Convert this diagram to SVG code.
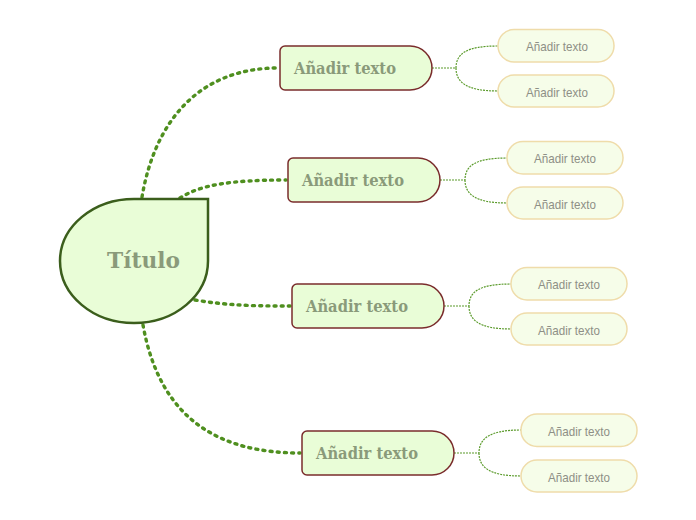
<svg xmlns="http://www.w3.org/2000/svg" width="696" height="520" viewBox="0 0 696 520">
<style>
.main{stroke:#4f8f1f;stroke-width:3.4;fill:none;stroke-linecap:round;stroke-dasharray:2 5.2}
.sub{stroke:#5a9a2a;stroke-width:1.2;fill:none;stroke-dasharray:2 1}
.mn{fill:#e9fdd7;stroke:#7a2c2c;stroke-width:1.5}
.mt{font-family:"DejaVu Serif","Liberation Serif",serif;font-weight:bold;font-size:16.5px;fill:#8a9a7a}
.sn{fill:#f6fde9;stroke:#efdcaa;stroke-width:1.5}
.st{font-family:"Liberation Sans",Arial,sans-serif;font-size:13.5px;fill:#8e8f86;text-anchor:middle}
</style>
<rect width="696" height="520" fill="#ffffff"/>
<g id="connectors">
<path class="main" d="M142,197 C155,120 200,68 278,68"/>
<path class="main" d="M180,198 C200,185 230,180 286,180"/>
<path class="main" d="M195,300 C230,306 260,306 290,306"/>
<path class="main" d="M143,325 C160,420 220,453 300,453"/>
<path class="sub" d="M432,68 H456 C456,54 466,46 498,46 M456,68 C456,82 466,91 498,91"/>
<path class="sub" d="M440,180 H465 C465,166 475,158 507,158 M465,180 C465,194 475,203 507,203"/>
<path class="sub" d="M444,306 H469 C469,292 479,284 511,284 M469,306 C469,320 479,329 511,329"/>
<path class="sub" d="M454,453 H479 C479,439 489,430 521,430 M479,453 C479,467 489,476 521,476"/>
</g>
<g id="central">
<path d="M134,199 H208 V261 A74,62 0 1 1 134,199 Z" fill="#e9fdd7" stroke="#3b5e1c" stroke-width="2.5"/>
<text x="143.5" y="268" font-family="DejaVu Serif,Liberation Serif,serif" font-weight="bold" font-size="22" fill="#8a9a7a" text-anchor="middle" textLength="73" lengthAdjust="spacingAndGlyphs">Título</text>
</g>
<g id="main1">
<path class="mn" d="M285,46 H410 A22,22 0 0 1 410,90 H285 A5,5 0 0 1 280,85 V51 A5,5 0 0 1 285,46 Z"/>
<text class="mt" x="294" y="74" textLength="102" lengthAdjust="spacingAndGlyphs">Añadir texto</text>
</g>
<g id="main2">
<path class="mn" d="M293,158 H418 A22,22 0 0 1 418,202 H293 A5,5 0 0 1 288,197 V163 A5,5 0 0 1 293,158 Z"/>
<text class="mt" x="302" y="186" textLength="102" lengthAdjust="spacingAndGlyphs">Añadir texto</text>
</g>
<g id="main3">
<path class="mn" d="M297,284 H422 A22,22 0 0 1 422,328 H297 A5,5 0 0 1 292,323 V289 A5,5 0 0 1 297,284 Z"/>
<text class="mt" x="306" y="312" textLength="102" lengthAdjust="spacingAndGlyphs">Añadir texto</text>
</g>
<g id="main4">
<path class="mn" d="M307,431 H432 A22,22 0 0 1 432,475 H307 A5,5 0 0 1 302,470 V436 A5,5 0 0 1 307,431 Z"/>
<text class="mt" x="316" y="459" textLength="102" lengthAdjust="spacingAndGlyphs">Añadir texto</text>
</g>
<g id="sub1a"><rect class="sn" x="498" y="29.5" width="116" height="32.5" rx="16"/><text class="st" x="557" y="51" textLength="62" lengthAdjust="spacingAndGlyphs">Añadir texto</text></g>
<g id="sub1b"><rect class="sn" x="498" y="75" width="116" height="32" rx="16"/><text class="st" x="557" y="96.5" textLength="62" lengthAdjust="spacingAndGlyphs">Añadir texto</text></g>
<g id="sub2a"><rect class="sn" x="507" y="141.5" width="116" height="32.5" rx="16"/><text class="st" x="565" y="163" textLength="62" lengthAdjust="spacingAndGlyphs">Añadir texto</text></g>
<g id="sub2b"><rect class="sn" x="507" y="187" width="116" height="32" rx="16"/><text class="st" x="565" y="209" textLength="62" lengthAdjust="spacingAndGlyphs">Añadir texto</text></g>
<g id="sub3a"><rect class="sn" x="511" y="267.5" width="116" height="32.5" rx="16"/><text class="st" x="569" y="289" textLength="62" lengthAdjust="spacingAndGlyphs">Añadir texto</text></g>
<g id="sub3b"><rect class="sn" x="511" y="313" width="116" height="32" rx="16"/><text class="st" x="569" y="334.5" textLength="62" lengthAdjust="spacingAndGlyphs">Añadir texto</text></g>
<g id="sub4a"><rect class="sn" x="521" y="414" width="116" height="32.5" rx="16"/><text class="st" x="579" y="435.5" textLength="62" lengthAdjust="spacingAndGlyphs">Añadir texto</text></g>
<g id="sub4b"><rect class="sn" x="521" y="460" width="116" height="32" rx="16"/><text class="st" x="579" y="481.5" textLength="62" lengthAdjust="spacingAndGlyphs">Añadir texto</text></g>
</svg>
